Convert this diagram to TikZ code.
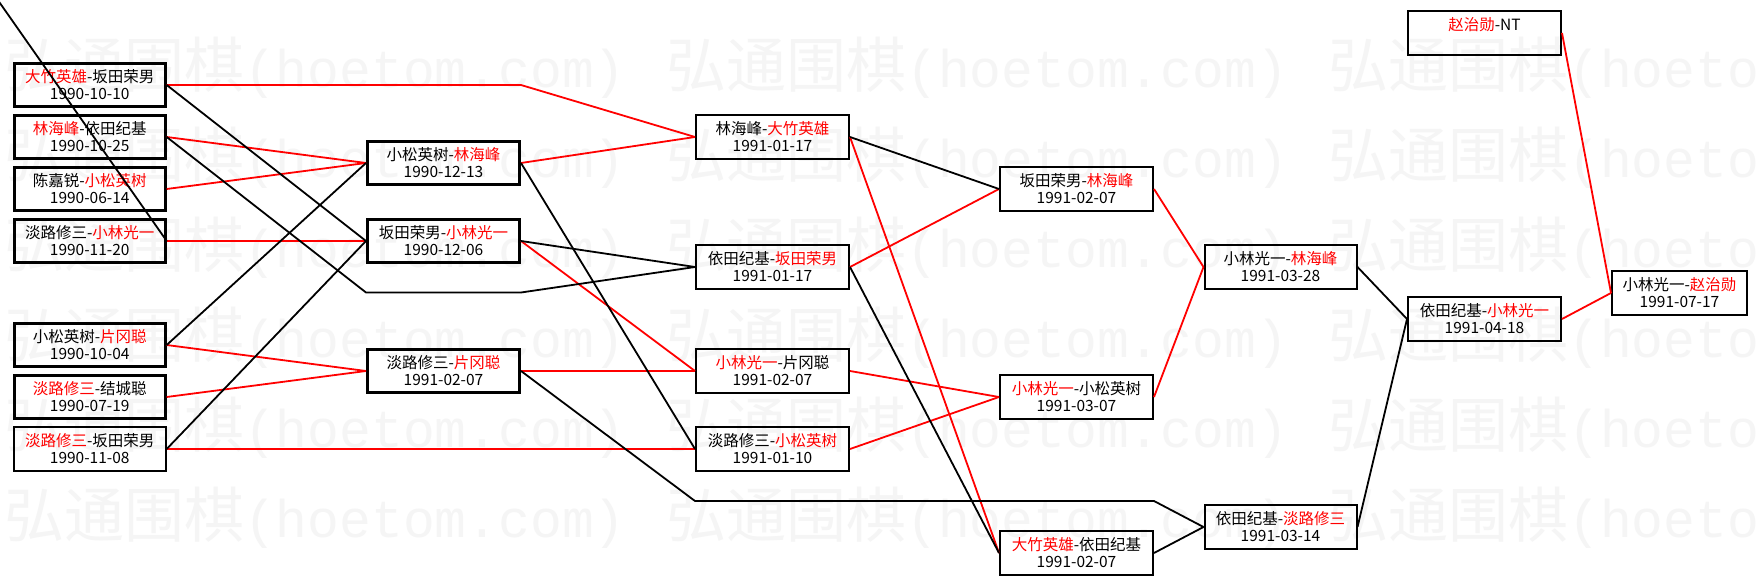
\documentclass[tikz,border=0pt]{standalone}
\usepackage{fontspec}
\setmainfont{Noto Sans CJK SC}
\newfontfamily\wmmono{Liberation Mono}
\newcommand{\winner}[1]{\textcolor{red}{#1}}
\begin{document}
\begin{tikzpicture}[x=1pt,y=-1pt,
  mbox/.style={draw=black, rectangle, line width=2pt, inner sep=0pt,
    minimum width=153pt, minimum height=44pt, align=center,
    font=\fontsize{15.5}{17}\selectfont},
  heavybox/.style={line width=3pt, minimum height=43pt},
  rline/.style={draw=red, line width=1.8pt},
  bline/.style={draw=black, line width=1.8pt},
  wmark/.style={anchor=west, inner sep=0pt, text=black!4,
    font=\fontsize{60}{60}\selectfont}
]
\useasboundingbox (0,0) rectangle (1759,585);
\clip (0,0) rectangle (1759,585);
\fill[white] (0,0) rectangle (1759,585);

% watermark
\foreach \yy in {68,158,248,338,428,518}{
  \foreach \xx in {4,666,1328}{
    \node[wmark] (wm-\xx-\yy) at (\xx,\yy) {弘通围棋{\wmmono\fontsize{53}{53}\selectfont (hoetom.com)}};
  }
}

% column 1
\node[mbox,heavybox,minimum width=151pt] (b1) at (89.7,85)  {\winner{大竹英雄}-坂田荣男\\1990-10-10};
\node[mbox,heavybox,minimum width=151pt] (b2) at (89.7,137) {\winner{林海峰}-依田纪基\\1990-10-25};
\node[mbox,heavybox,minimum width=151pt] (b3) at (89.7,189) {陈嘉锐-\winner{小松英树}\\1990-06-14};
\node[mbox,heavybox,minimum width=151pt] (b4) at (89.7,241) {淡路修三-\winner{小林光一}\\1990-11-20};
\node[mbox,heavybox,minimum width=151pt] (b5) at (89.7,345) {小松英树-\winner{片冈聪}\\1990-10-04};
\node[mbox,heavybox,minimum width=151pt] (b6) at (89.7,397) {\winner{淡路修三}-结城聪\\1990-07-19};
\node[mbox,minimum width=152pt] (b7) at (89.7,449) {\winner{淡路修三}-坂田荣男\\1990-11-08};

% column 2
\node[mbox,heavybox,minimum width=152pt] (c2a) at (443.5,163) {小松英树-\winner{林海峰}\\1990-12-13};
\node[mbox,heavybox,minimum width=152pt] (c2b) at (443.5,241) {坂田荣男-\winner{小林光一}\\1990-12-06};
\node[mbox,heavybox,minimum width=152pt] (c2c) at (443.5,371) {淡路修三-\winner{片冈聪}\\1991-02-07};

% column 3
\node[mbox] (c3a) at (772.5,137) {林海峰-\winner{大竹英雄}\\1991-01-17};
\node[mbox] (c3b) at (772.5,267) {依田纪基-\winner{坂田荣男}\\1991-01-17};
\node[mbox] (c3c) at (772.5,371) {\winner{小林光一}-片冈聪\\1991-02-07};
\node[mbox] (c3d) at (772.5,449) {淡路修三-\winner{小松英树}\\1991-01-10};

% column 4
\node[mbox] (c4a) at (1076.5,189) {坂田荣男-\winner{林海峰}\\1991-02-07};
\node[mbox] (c4b) at (1076.5,397) {\winner{小林光一}-小松英树\\1991-03-07};
\node[mbox] (c4c) at (1076.5,553) {\winner{大竹英雄}-依田纪基\\1991-02-07};

% column 5
\node[mbox,minimum width=152pt] (c5a) at (1280.5,267) {小林光一-\winner{林海峰}\\1991-03-28};
\node[mbox,minimum width=152pt] (c5b) at (1280.5,527) {依田纪基-\winner{淡路修三}\\1991-03-14};

% column 6
\node[mbox] (c6) at (1484.5,319) {依田纪基-\winner{小林光一}\\1991-04-18};
\node[mbox] (nt) at (1484.5,33) {\winner{赵治勋}-NT\\\phantom{1991-01-01}};

% column 7
\node[mbox,minimum width=135pt] (c7) at (1679.5,293) {小林光一-\winner{赵治勋}\\1991-07-17};

% routing points
\coordinate (r1) at (521,85);
\coordinate (r2a) at (366,292.5);
\coordinate (r2b) at (521,292.5);
\coordinate (r3a) at (695,501);
\coordinate (r3b) at (1154,501);
\coordinate (ghost) at (-13.4,-16);

% winners (red)
\draw[rline] (b1.east) -- (r1) -- (c3a.west);
\draw[rline] (b2.east) -- (c2a.west);
\draw[rline] (b3.east) -- (c2a.west);
\draw[rline] (b4.east) -- (c2b.west);
\draw[rline] (b5.east) -- (c2c.west);
\draw[rline] (b6.east) -- (c2c.west);
\draw[rline] (b7.east) -- (c3d.west);
\draw[rline] (c2a.east) -- (c3a.west);
\draw[rline] (c2b.east) -- (c3c.west);
\draw[rline] (c2c.east) -- (c3c.west);
\draw[rline] (c3a.east) -- (c4c.west);
\draw[rline] (c3b.east) -- (c4a.west);
\draw[rline] (c3c.east) -- (c4b.west);
\draw[rline] (c3d.east) -- (c4b.west);
\draw[rline] (c4a.east) -- (c5a.west);
\draw[rline] (c4b.east) -- (c5a.west);
\draw[rline] (c6.east) -- (c7.west);
\draw[rline] (nt.east) -- (c7.west);

% losers (black)
\draw[bline] (b1.east) -- (c2b.west);
\draw[bline] (b2.east) -- (r2a) -- (r2b) -- (c3b.west);
\draw[bline] (b4.east) -- (ghost);
\draw[bline] (b5.east) -- (c2a.west);
\draw[bline] (b7.east) -- (c2b.west);
\draw[bline] (c2a.east) -- (c3d.west);
\draw[bline] (c2b.east) -- (c3b.west);
\draw[bline] (c2c.east) -- (r3a) -- (r3b) -- (c5b.west);
\draw[bline] (c3a.east) -- (c4a.west);
\draw[bline] (c3b.east) -- (c4c.west);
\draw[bline] (c4c.east) -- (c5b.west);
\draw[bline] (c5a.east) -- (c6.west);
\draw[bline] (c5b.east) -- (c6.west);
\end{tikzpicture}
\end{document}
